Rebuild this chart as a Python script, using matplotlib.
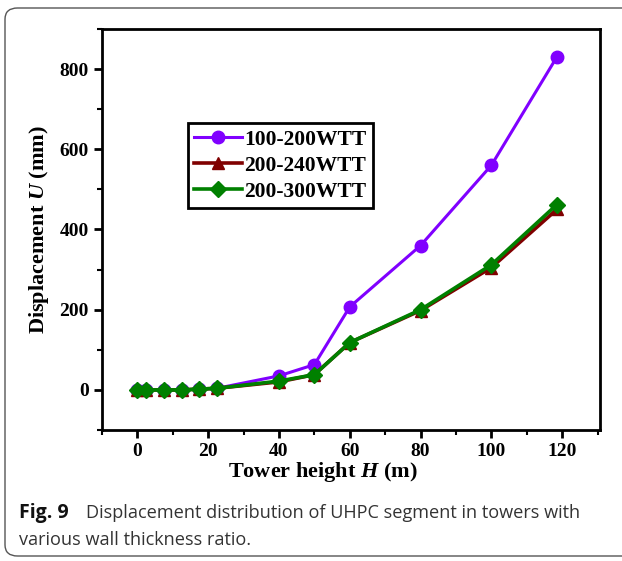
import matplotlib
matplotlib.use("Agg")
import matplotlib.pyplot as plt
from matplotlib.patches import FancyBboxPatch

# Data
heights = [0, 2.5, 7.5, 12.5, 17.5, 22.5, 40, 50, 60, 80, 100, 118.5]
wtt_100_200 = [0, 0, 0, 0, 2, 4, 35, 63, 207, 360, 560, 830]
wtt_200_240 = [0, 0, 0, 0, 2, 4, 20, 38, 118, 198, 305, 450]
wtt_200_300 = [0, 0, 0, 0, 2, 4, 22, 38, 118, 200, 312, 462]
series_labels = ["100-200WTT", "200-240WTT", "200-300WTT"]
x_ticks = [0, 20, 40, 60, 80, 100, 120]
y_ticks = [0, 200, 400, 600, 800]

plt.rcParams['mathtext.fontset'] = 'custom'
plt.rcParams['mathtext.it'] = 'Liberation Serif:italic:bold'
plt.rcParams['mathtext.rm'] = 'Liberation Serif:bold'

W, H = 622, 561
fig = plt.figure(figsize=(W/100, H/100), dpi=100)
ax = fig.add_axes([102/W, 1-430/H, (600-102)/W, (430-29)/H])

serif = 'Liberation Serif'
ax.plot(heights, wtt_100_200, color='#8000ff', lw=2.2, marker='o', ms=9, label=series_labels[0], zorder=3)
ax.plot(heights, wtt_200_240, color='#800000', lw=2.6, marker='^', ms=9, label=series_labels[1], zorder=4)
ax.plot(heights, wtt_200_300, color='#008000', lw=2.6, marker='D', ms=8.5, label=series_labels[2], zorder=5)

ax.set_xlim(-10, 130.7)
ax.set_ylim(-100, 900)
ax.set_xticks(x_ticks)
ax.set_yticks(y_ticks)
ax.set_xticks(range(-10, 131, 10), minor=True)
ax.set_yticks(range(-100, 901, 100), minor=True)
ax.tick_params(axis='both', which='major', direction='out', length=6, width=2, labelsize=14, top=False, right=False)
ax.tick_params(axis='both', which='minor', direction='out', length=3.5, width=1.5, top=False, right=False)
for lab in ax.get_xticklabels() + ax.get_yticklabels():
    lab.set_fontfamily(serif)
    lab.set_fontweight('bold')
for s in ax.spines.values():
    s.set_linewidth(2)

ax.set_xlabel(r'Tower height $H$ (m)', fontsize=16, fontfamily=serif, fontweight='bold')
ax.xaxis.set_label_coords((323-102)/498, -0.075)
ax.set_ylabel(r'Displacement $U$ (mm)', fontsize=16, fontfamily=serif, fontweight='bold', labelpad=6)

leg = ax.legend(loc='upper left', bbox_to_anchor=((188-102)/498, (430-123)/401),
                prop={'family': serif, 'weight': 'bold', 'size': 15.5},
                frameon=True, fancybox=False, edgecolor='black', framealpha=1, handlelength=2.2, handletextpad=0.1,
                borderpad=0.3, labelspacing=0.28, borderaxespad=0)
leg.get_frame().set_linewidth(2)

# caption
cap_font = 'Open Sans'
fig.text(19/W, 1-513/H, r'Fig. 9', fontsize=14, fontfamily=cap_font, fontweight='bold', va='center', color='#111111')
fig.text(86/W, 1-513/H, 'Displacement distribution of UHPC segment in towers with', fontsize=13.1,
         fontfamily=cap_font, va='center', color='#333333')
fig.text(19/W, 1-540/H, 'various wall thickness ratio.', fontsize=13.1, fontfamily=cap_font, va='center', color='#333333')

# border
box = FancyBboxPatch((5/W, 1-556/H), 640/W, (556-8)/H, boxstyle='round,pad=0,rounding_size=0.02',
                     transform=fig.transFigure, fill=False, edgecolor='#555555', lw=1.0, clip_on=False)
fig.patches.append(box)

fig.savefig('out.png', dpi=100)
